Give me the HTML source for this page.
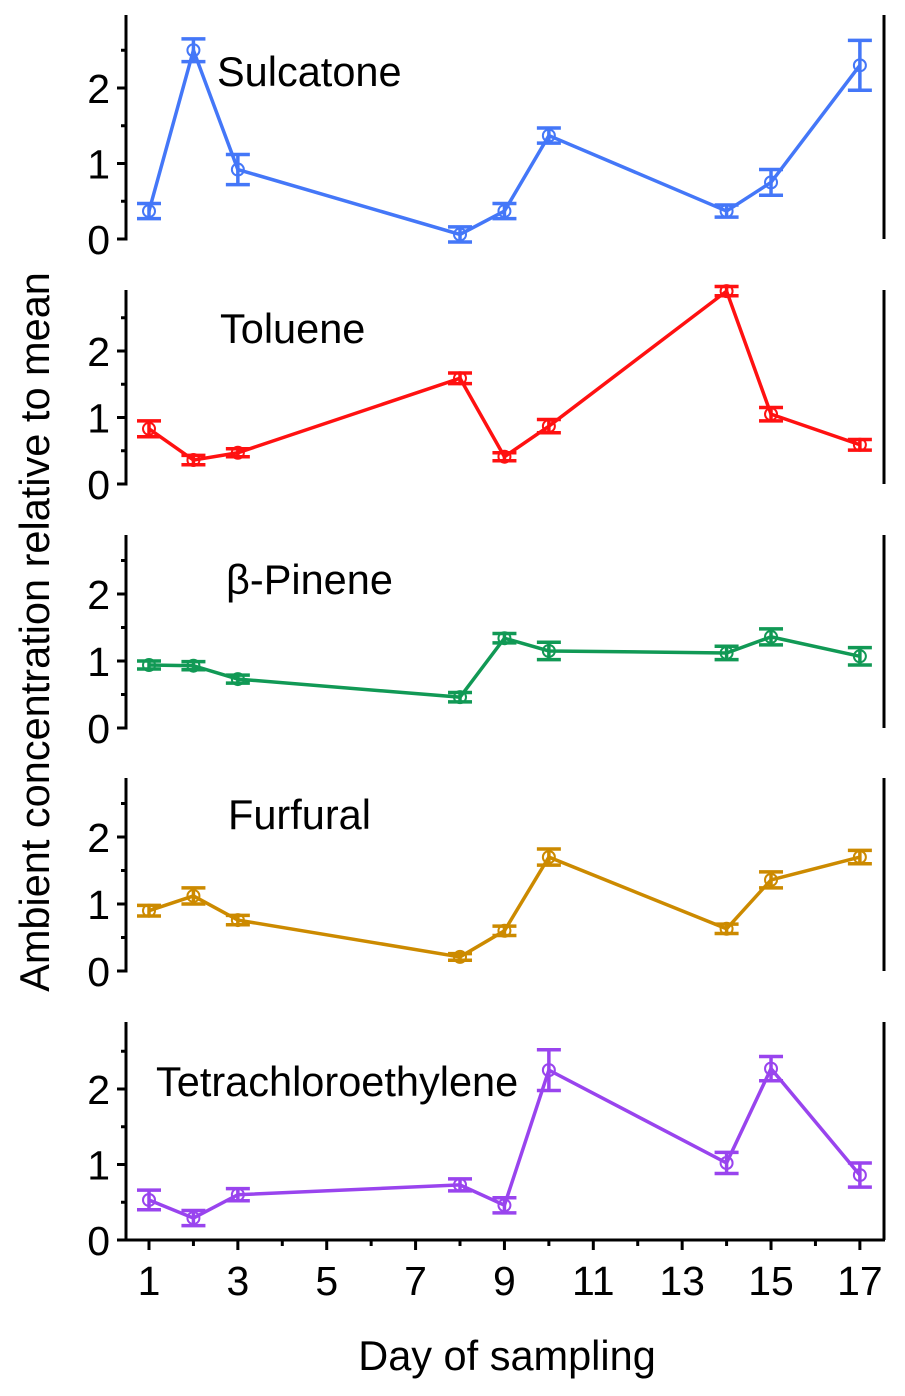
<!DOCTYPE html>
<html><head><meta charset="utf-8"><style>body{margin:0;background:#fff}svg{display:block}text{font-family:"Liberation Sans",sans-serif;fill:#000}</style></head>
<body>
<svg id="chart" width="905" height="1396" viewBox="0 0 905 1396"></svg>
<script>
const days = [1,2,3,8,9,10,14,15,17];
const names = ["Sulcatone","Toluene","β-Pinene","Furfural","Tetrachloroethylene"];
const sulcatone = [0.37,2.5,0.92,0.06,0.37,1.37,0.37,0.75,2.3];
const sulcatoneErr = [0.1,0.15,0.2,0.1,0.1,0.1,0.08,0.17,0.33];
const toluene = [0.83,0.36,0.47,1.59,0.41,0.87,2.9,1.05,0.59];
const tolueneErr = [0.12,0.07,0.06,0.08,0.06,0.1,0.07,0.1,0.08];
const pinene = [0.94,0.93,0.73,0.46,1.34,1.15,1.12,1.36,1.07];
const pineneErr = [0.06,0.06,0.06,0.07,0.07,0.13,0.1,0.12,0.13];
const furfural = [0.9,1.12,0.76,0.21,0.6,1.7,0.63,1.36,1.7];
const furfuralErr = [0.08,0.12,0.07,0.05,0.07,0.12,0.07,0.12,0.1];
const tetra = [0.53,0.29,0.6,0.73,0.46,2.25,1.02,2.27,0.86];
const tetraErr = [0.13,0.1,0.08,0.08,0.1,0.27,0.14,0.16,0.16];
const yTicks = ["0","1","2"];
const xTicks = ["1","3","5","7","9","11","13","15","17"];

const series=[sulcatone,toluene,pinene,furfural,tetra];
const errs=[sulcatoneErr,tolueneErr,pineneErr,furfuralErr,tetraErr];
const colors=["#4477f8","#ff1111","#119955","#cc8a00","#9944ee"];
const panels=[{b:239,s:75.5,t:15},{b:484,s:66.5,t:290},{b:728,s:67,t:535},{b:971,s:67,t:778},{b:1240,s:75.5,t:1022}];
const labelPos=[[217,86],[220,343],[226,594],[228,829],[156,1096]];
const svg=document.getElementById('chart');
const NS="http://www.w3.org/2000/svg";
function mk(tag,a,parent){const e=document.createElementNS(NS,tag);for(const k in a)e.setAttribute(k,a[k]);(parent||svg).appendChild(e);return e;}
const xS=d=>149+(d-1)*44.43;
panels.forEach((p,i)=>{
  const g=mk('g',{});
  
  
  const yS=v=>p.b-v*p.s;
  const ax=mk('line',{x1:126,x2:126,y1:p.t,y2:p.b+1.5,stroke:'#000','stroke-width':3},g);
  
  const rx=mk('line',{x1:884,x2:884,y1:p.t,y2:p.b,stroke:'#000','stroke-width':3},g);
  
  for(let v=0;v<=2.5;v+=0.5){
    const maj=Number.isInteger(v);
    mk('line',{x1:maj?117:121,x2:126,y1:yS(v),y2:yS(v),stroke:'#000','stroke-width':3},g);
  }
  yTicks.forEach((t,k)=>{const e=mk('text',{x:110,y:yS(k)+15,'font-size':41,'text-anchor':'end'},g);e.textContent=t;
    });
  const lab=mk('text',{x:labelPos[i][0],y:labelPos[i][1],'font-size':41.5},g);lab.textContent=names[i];
  
  const vals=series[i],er=errs[i],c=colors[i];
  const pl=mk('polyline',{points:days.map((d,k)=>xS(d)+','+yS(vals[k])).join(' '),fill:'none',stroke:c,'stroke-width':3.5},g);
  
  days.forEach((d,k)=>{
    const x=xS(d),y=yS(vals[k]),hi=yS(vals[k]+er[k]),lo=yS(vals[k]-er[k]);
    const eg=mk('g',{stroke:c,'stroke-width':3.5,fill:'none'},g);
    
    mk('line',{x1:x,x2:x,y1:hi,y2:lo},eg);
    mk('line',{x1:x-12,x2:x+12,y1:hi,y2:hi},eg);
    mk('line',{x1:x-12,x2:x+12,y1:lo,y2:lo},eg);
    mk('circle',{cx:x,cy:y,r:6,'stroke-width':2},eg);
  });
});
const xa=mk('line',{x1:124.5,x2:885,y1:1240,y2:1240,stroke:'#000','stroke-width':3});

for(let d=1;d<=17;d++){mk('line',{x1:xS(d),x2:xS(d),y1:1240,y2:d%2?1250:1246,stroke:'#000','stroke-width':3});}
xTicks.forEach(t=>{const e=mk('text',{x:xS(+t),y:1295,'font-size':41,'text-anchor':'middle'});e.textContent=t;
  });
const xt=mk('text',{x:507,y:1370,'font-size':41.5,'text-anchor':'middle'});xt.textContent='Day of sampling';

const yt=mk('text',{x:0,y:0,'font-size':41.5,'text-anchor':'middle',transform:'translate(49,632) rotate(-90)'});yt.textContent='Ambient concentration relative to mean';

</script>
</body></html>
